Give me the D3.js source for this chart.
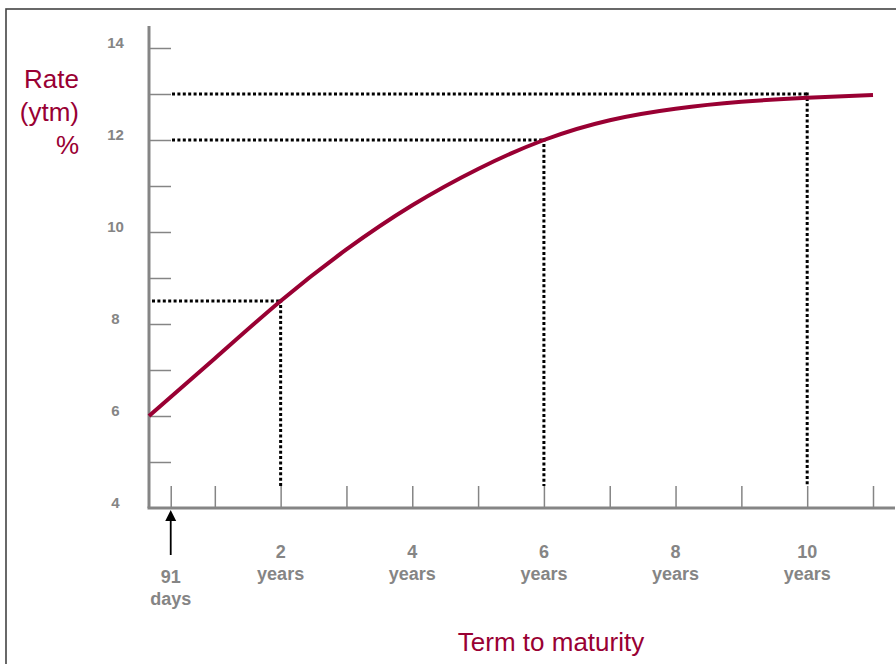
<!DOCTYPE html>
<html>
<head>
<meta charset="utf-8">
<script src="https://cdn.jsdelivr.net/npm/d3@7"></script>
<style>
  html, body { margin: 0; padding: 0; background: #fff; }
  svg { display: block; }
  text { font-family: "Liberation Sans", Arial, Helvetica, sans-serif; }
</style>
</head>
<body>
<svg id="chart" width="896" height="664"></svg>
<script>
// Yield curve: term to maturity (years) vs. rate (ytm, %)
const terms = [0, 1, 2, 3, 4, 5, 6, 7, 8, 9, 10, 11];
const rates = [6.0, 7.25, 8.5, 9.62, 10.58, 11.37, 12.0, 12.43, 12.68, 12.83, 12.92, 12.98];

// Reference readings marked with dotted guides
const guideTerms = [2, 6, 10];
const guideRates = [8.5, 12, 13];

// Axis ticks and labels
const yTicks = [5, 6, 7, 8, 9, 10, 11, 12, 13, 14];
const yLabels = [4, 6, 8, 10, 12, 14];
const shortTerm = 0.33;              // position of the 91-day marker
const shortTermLabel = ["91", "days"];
const xTicks = [shortTerm, 1, 2, 3, 4, 5, 6, 7, 8, 9, 10, 11];
const xLabelTerms = [2, 4, 6, 8, 10];
const xLabelUnit = "years";

const yTitle = ["Rate", "(ytm)", "%"];
const xTitle = "Term to maturity";

const crimson = "#990033";
const grey = "#858585";

const svg = d3.select("#chart");

// frame
svg.append("rect")
  .attr("x", 6).attr("y", 9)
  .attr("width", 900).attr("height", 670)
  .attr("fill", "none").attr("stroke", "#444").attr("stroke-width", 1.6);

const x = d3.scaleLinear().domain([0, 11]).range([149, 873]);
const y = d3.scaleLinear().domain([4, 14]).range([508, 48]);
const tickLen = 22;

// y ticks (inside, pointing right)
svg.append("g")
  .attr("transform", `translate(${x(0)},0)`)
  .call(d3.axisRight(y).tickValues(yTicks).tickSize(tickLen).tickSizeOuter(0).tickFormat(""))
  .call(g => g.select(".domain").remove())
  .call(g => g.selectAll(".tick line").attr("stroke", grey).attr("stroke-width", 1.5));

// x ticks (pointing up)
svg.append("g")
  .attr("transform", `translate(0,${y(4)})`)
  .call(d3.axisTop(x).tickValues(xTicks).tickSize(tickLen).tickSizeOuter(0).tickFormat(""))
  .call(g => g.select(".domain").remove())
  .call(g => g.selectAll(".tick line").attr("stroke", grey).attr("stroke-width", 1.5));

// axis lines
svg.append("line")
  .attr("x1", x(0)).attr("x2", x(0))
  .attr("y1", y(4)).attr("y2", y(14) - tickLen)
  .attr("stroke", grey).attr("stroke-width", 3);
svg.append("line")
  .attr("x1", x(0) - 1.5).attr("x2", 895)
  .attr("y1", y(4)).attr("y2", y(4))
  .attr("stroke", grey).attr("stroke-width", 3);

// y labels
svg.append("g").selectAll("text")
  .data(yLabels).join("text")
  .attr("x", 115.5).attr("y", d => y(d))
  .attr("text-anchor", "middle")
  .attr("font-size", 15).attr("font-weight", "bold")
  .attr("fill", grey)
  .text(d => d);

// x labels
const xl = svg.append("g").selectAll("text")
  .data(xLabelTerms).join("text")
  .attr("x", d => x(d))
  .attr("text-anchor", "middle")
  .attr("font-size", 18).attr("font-weight", "bold")
  .attr("fill", grey);
xl.append("tspan").attr("x", d => x(d)).attr("y", 558).text(d => d);
xl.append("tspan").attr("x", d => x(d)).attr("y", 580).text(xLabelUnit);

const sl = svg.append("text")
  .attr("text-anchor", "middle")
  .attr("font-size", 18).attr("font-weight", "bold")
  .attr("fill", grey);
sl.selectAll("tspan").data(shortTermLabel).join("tspan")
  .attr("x", x(shortTerm)).attr("y", (d, i) => 583 + i * 22)
  .text(d => d);

// arrow pointing at the 91-day tick
svg.append("line")
  .attr("x1", x(shortTerm)).attr("x2", x(shortTerm))
  .attr("y1", 555).attr("y2", 518)
  .attr("stroke", "#000").attr("stroke-width", 1.8);
svg.append("path")
  .attr("d", d3.line()([[x(shortTerm), 510], [x(shortTerm) - 5.5, 521], [x(shortTerm) + 5.5, 521]]) + "Z")
  .attr("fill", "#000");

// dotted guides
const dotted = "3,2.4";
guideTerms.forEach((t, i) => {
  const r = guideRates[i];
  const x0 = Number.isInteger(r) ? x(0) + tickLen + 1 : x(0) + 3;
  svg.append("line")
    .attr("x1", x0).attr("x2", x(t) + 1.5)
    .attr("y1", y(r)).attr("y2", y(r))
    .attr("stroke", "#000").attr("stroke-width", 3)
    .attr("stroke-dasharray", dotted);
  svg.append("line")
    .attr("x1", x(t)).attr("x2", x(t))
    .attr("y1", y(r) - 1.5).attr("y2", y(4) - tickLen)
    .attr("stroke", "#000").attr("stroke-width", 3)
    .attr("stroke-dasharray", dotted);
});

// yield curve
const pts = terms.map((t, i) => [t, rates[i]]);
svg.append("path")
  .datum(pts)
  .attr("d", d3.line().x(d => x(d[0])).y(d => y(d[1])).curve(d3.curveNatural))
  .attr("fill", "none")
  .attr("stroke", crimson)
  .attr("stroke-width", 4);

// titles
const yt = svg.append("text")
  .attr("text-anchor", "end")
  .attr("font-size", 26)
  .attr("fill", crimson);
yt.selectAll("tspan").data(yTitle).join("tspan")
  .attr("x", 79).attr("y", (d, i) => 88 + i * 33)
  .text(d => d);

svg.append("text")
  .attr("x", 551).attr("y", 651)
  .attr("text-anchor", "middle")
  .attr("font-size", 26)
  .attr("fill", crimson)
  .text(xTitle);
</script>
</body>
</html>
